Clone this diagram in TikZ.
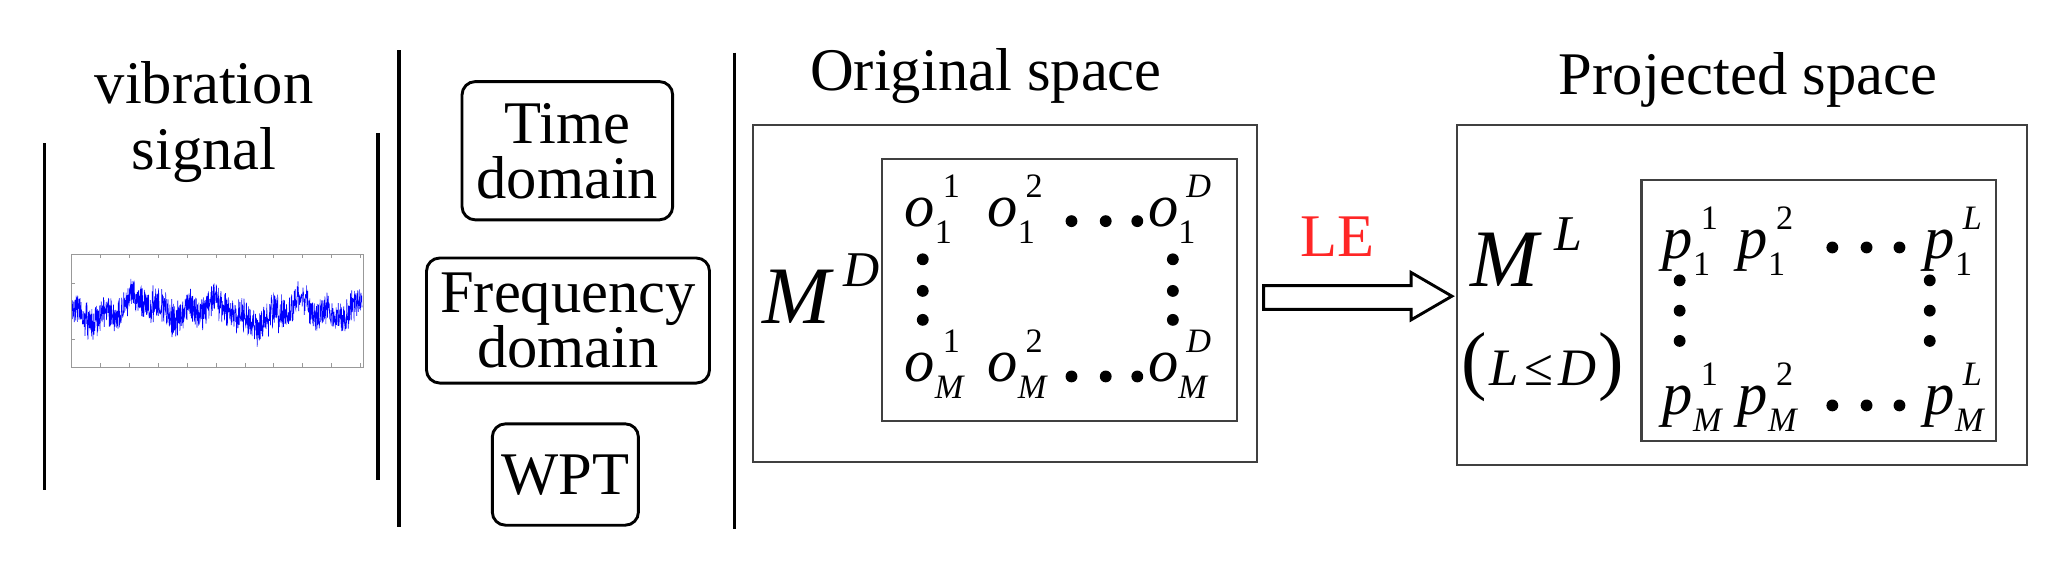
\documentclass[tikz,border=0pt]{standalone}
\usepackage{fontspec}
\setmainfont{Liberation Serif}
\newcommand\fsz[1]{\fontsize{#1}{#1}\selectfont}
\newcommand\ent[3]{{\fsz{46}\itshape #1}\rlap{\kern6pt\raisebox{22pt}{\fsz{26}#2}}\raisebox{-13pt}{\fsz{26}#3}}
\begin{document}
\begin{tikzpicture}[x=1pt,y=-1pt,
  sep/.style={line width=2.6pt,black},
  rbox/.style={draw,line width=2.2pt,rounded corners=10pt,align=center,inner sep=0pt,font=\fsz{46},text depth=0pt},
  frame/.style={draw=black!75,line width=1.6pt},
  ttl/.style={font=\fsz{46},anchor=base,inner sep=0pt},
  dotc/.style={fill=black}]
\useasboundingbox (0,0) rectangle (1568,433);
% separators
\draw[sep] (34,109) -- (34,372);
\draw[sep] (287,101) -- (287,365);
\draw[sep] (303,38) -- (303,400);
\draw[sep] (558,40) -- (558,402);
% vibration signal
\node[ttl] (vib) at (155,79) {vibration};
\node[ttl] (sig) at (155,129) {signal};
\draw[black!40,line width=0.6pt] (54,193) rectangle (276,279);
\foreach \t in {54,76,...,276}{\draw[black!40,line width=0.5pt] (\t,193)--(\t,196) (\t,279)--(\t,276);}
\foreach \t in {193,215,236,258,279}{\draw[black!40,line width=0.5pt] (54,\t)--(57,\t);}
\pgfmathsetseed{7}
\draw[blue,line width=0.45pt] plot[domain=55:275,samples=1100] (\x,{236+11*rand+7*rand*abs(rand)+6*sin(\x*6)+4*sin(\x*17)+3*sin(\x*2.3)});
% feature boxes
\node[rbox,minimum width=160pt,minimum height=105pt] (time) at (431,114.5) {Time\\[-4pt]domain};
\node[rbox,minimum width=215pt,minimum height=95pt] (freq) at (431.5,243.5) {Frequency\\[-4pt]domain};
\node[rbox,minimum width=111pt,minimum height=77pt] (wpt) at (429.5,360.5) {WPT};
% original space
\node[ttl] (orig) at (749,69) {Original space};
\draw[frame] (572,95) rectangle (955,351);
\draw[frame] (670,121) rectangle (940,320);
\node[anchor=base west,inner sep=0pt] (md) at (579,246) {{\fsz{62}\itshape M}\raisebox{28pt}{\kern10pt\fsz{38}\itshape D}};
\node[anchor=base west,inner sep=0pt] (o11) at (687,172) {\ent{o}{1}{1}};
\node[anchor=base west,inner sep=0pt] (o12) at (750,172) {\ent{o}{2}{1}};
\node[anchor=base west,inner sep=0pt] (o1D) at (872,172) {\ent{o}{\itshape D}{1}};
\node[anchor=base west,inner sep=0pt] (oM1) at (687,290) {\ent{o}{1}{\itshape M}};
\node[anchor=base west,inner sep=0pt] (oM2) at (750,290) {\ent{o}{2}{\itshape M}};
\node[anchor=base west,inner sep=0pt] (oMD) at (872,290) {\ent{o}{\itshape D}{\itshape M}};
\foreach \x in {814,840,864}{\fill[dotc] (\x,168) circle (4.5) (\x,286) circle (4.5);}
\foreach \y in {197,221,243}{\fill[dotc] (701,\y) circle (4.5) (891,\y) circle (4.5);}
% LE arrow
\node[ttl,text=red!85] (le) at (1016,195) {LE};
\draw[line width=2.2pt,line join=miter] (960,217) -- (1072,217) -- (1072,207) -- (1103,225) -- (1072,243) -- (1072,235) -- (960,235) -- cycle;
% projected space
\node[ttl] (proj) at (1328,72) {Projected space};
\draw[frame] (1107,95) rectangle (1540,353);
\draw[frame] (1247,137) rectangle (1516,335);
\node[anchor=base west,inner sep=0pt] (ml) at (1117,218) {{\fsz{62}\itshape M}\raisebox{28pt}{\kern12pt\fsz{38}\itshape L}};
\node[anchor=west,inner sep=0pt] (ld) at (1110,279) {\fsz{58}(\kern2pt{\fsz{40}\itshape L\kern4pt\upshape ≤\kern4pt\itshape D}\kern2pt)};
\node[anchor=base west,inner sep=0pt] (p11) at (1263,196) {\ent{p}{1}{1}};
\node[anchor=base west,inner sep=0pt] (p12) at (1320,196) {\ent{p}{2}{1}};
\node[anchor=base west,inner sep=0pt] (p1L) at (1462,196) {\ent{p}{\itshape L}{1}};
\node[anchor=base west,inner sep=0pt] (pM1) at (1263,315) {\ent{p}{1}{\itshape M}};
\node[anchor=base west,inner sep=0pt] (pM2) at (1320,315) {\ent{p}{2}{\itshape M}};
\node[anchor=base west,inner sep=0pt] (pML) at (1462,315) {\ent{p}{\itshape L}{\itshape M}};
\foreach \x in {1392,1418,1443}{\fill[dotc] (\x,188) circle (4.5) (\x,308) circle (4.5);}
\foreach \y in {213,236,259}{\fill[dotc] (1276,\y) circle (4.5) (1466,\y) circle (4.5);}
\end{tikzpicture}
\end{document}
